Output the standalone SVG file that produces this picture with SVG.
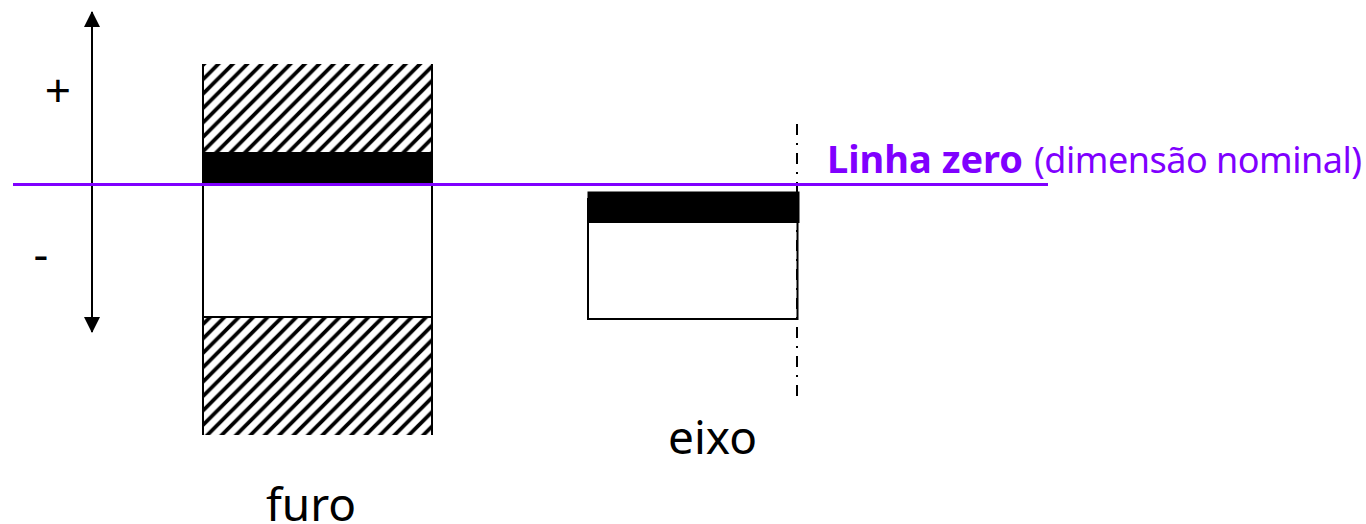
<svg xmlns="http://www.w3.org/2000/svg" width="1366" height="524" viewBox="0 0 1366 524">
<style>
text{font-family:"Noto Sans","DejaVu Sans",sans-serif;fill:#000}
.big{font-size:46px}
.zero{fill:#8000ff}
.edge{fill:none;stroke:#000;stroke-width:2}
</style>
<defs>
<pattern id="hatch" patternUnits="userSpaceOnUse" width="14.4" height="14.4" x="203" y="65">
<rect width="14.4" height="14.4" fill="#fff"/>
<path d="M-3.6 3.6L3.6 -3.6M-3.6 18L18 -3.6M10.8 18L18 10.800" stroke="#000" stroke-width="3.8" fill="none"/>
</pattern>
<marker id="ah" viewBox="0 0 16 16" refX="15" refY="8" markerWidth="16" markerHeight="16" markerUnits="userSpaceOnUse" orient="auto-start-reverse">
<path d="M0 0L16 8L0 16Z" fill="#000"/>
</marker>
</defs>
<rect width="1366" height="524" fill="#fff"/>
<g id="furo">
<rect x="203" y="64" width="230" height="88" fill="url(#hatch)"/>
<rect x="203" y="317" width="230" height="118" fill="url(#hatch)"/>
<rect x="202" y="152" width="231" height="32" fill="#000"/>
<path class="edge" d="M203 64V435M432 64V435M203 317H432"/>
<text class="big" x="311" y="521" text-anchor="middle">furo</text>
</g>
<g id="eixo">
<rect x="588" y="199" width="209.500" height="120" fill="#fff" stroke="#000" stroke-width="2"/>
<rect x="587.500" y="191.500" width="212" height="31.500" fill="#000"/>
<text class="big" x="712.500" y="454" text-anchor="middle">eixo</text>
</g>
<g id="labels">
<text class="big" x="58" y="107" text-anchor="middle">+</text>
<text class="big" x="41" y="270" text-anchor="middle">-</text>
<text class="zero" x="827" y="172.500" font-size="38" font-weight="700">Linha zero</text>
<text class="zero" x="1034" y="172.500" font-size="36" letter-spacing="-0.5">(dimensão nominal)</text>
</g>
<g id="connectors">
<path d="M92 12V332" fill="none" stroke="#000" stroke-width="2" marker-start="url(#ah)" marker-end="url(#ah)"/>
<path d="M797 124V397" fill="none" stroke="#000" stroke-width="2" stroke-dasharray="11 8 2 8"/>
<path d="M13 184.500H1048" fill="none" stroke="#8000ff" stroke-width="3"/>
</g>
</svg>
